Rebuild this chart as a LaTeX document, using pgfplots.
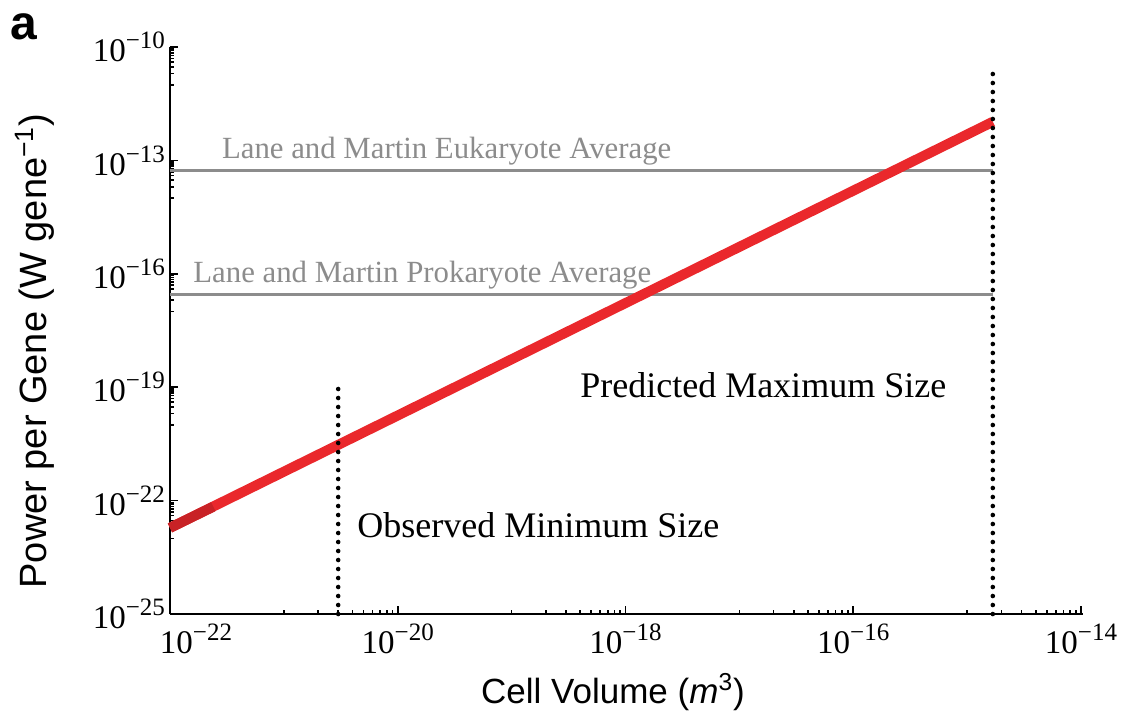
\documentclass[border=0pt]{standalone}
\usepackage{fontspec}
\setmainfont{Liberation Serif}
\setsansfont{Liberation Sans}
\usepackage{pgfplots}
\pgfplotsset{compat=1.18}
\definecolor{redline}{RGB}{234,40,44}
\definecolor{darkred}{RGB}{200,34,38}
\definecolor{refgray}{RGB}{140,140,140}
\newcommand{\tl}[1]{10\raisebox{6.5pt}{\fontsize{12.5}{13}\selectfont −#1}}
\begin{document}
\begin{tikzpicture}[x=1pt,y=1pt]
\useasboundingbox (0,0) rectangle (563.5,362);
\begin{axis}[
  at={(85pt,55pt)}, anchor=south west,
  scale only axis, width=456.5pt, height=283.5pt,
  xmode=log, ymode=log,
  xmin=1e-22, xmax=1.04e-14, ymin=1e-25, ymax=1e-10,
  axis x line*=bottom, axis y line*=left,
  axis line style={-, line width=1pt},
  xtick={1e-22,1e-20,1e-18,1e-16,1e-14},
  xticklabels={\makebox[0pt][l]{\hspace{-5pt}\tl{22}},\tl{20},\tl{18},\tl{16},\tl{14}},
  minor xtick={1e-21,2e-21,3e-21,4e-21,5e-21,6e-21,7e-21,8e-21,9e-21,
               1e-19,2e-19,3e-19,4e-19,5e-19,6e-19,7e-19,8e-19,9e-19,
               1e-17,2e-17,3e-17,4e-17,5e-17,6e-17,7e-17,8e-17,9e-17,
               1e-15,2e-15,3e-15,4e-15,5e-15,6e-15,7e-15,8e-15,9e-15},
  ytick={1e-25,1e-22,1e-19,1e-16,1e-13,1e-10},
  yticklabels={\tl{25},\tl{22},\tl{19},\tl{16},\tl{13},\tl{10}},
  minor ytick={1e-11,2e-11,3e-11,4e-11,5e-11,6e-11,7e-11,8e-11,9e-11,
               1e-14,2e-14,3e-14,4e-14,5e-14,6e-14,7e-14,8e-14,9e-14,
               1e-17,2e-17,3e-17,4e-17,5e-17,6e-17,7e-17,8e-17,9e-17,
               1e-20,2e-20,3e-20,4e-20,5e-20,6e-20,7e-20,8e-20,9e-20,
               1e-23,2e-23,3e-23,4e-23,5e-23,6e-23,7e-23,8e-23,9e-23},
  tick align=inside,
  major tick length=4pt, minor tick length=2.2pt,
  every tick/.style={black, line width=0.8pt},
  ticklabel style={font=\fontsize{16.5}{18}\selectfont},
  xticklabel style={yshift=-1.5pt},
  yticklabel style={xshift=1pt},
  clip=false,
]
% reference averages
\addplot[refgray, line width=1.5pt] coordinates {(1e-22,5.57e-14) (1.68e-15,5.57e-14)};
\addplot[refgray, line width=1.5pt] coordinates {(1e-22,2.92e-17) (1.68e-15,2.92e-17)};
% power per gene
\addplot[redline, line width=5pt] coordinates {(1e-22,1.9e-23) (1.68e-15,1.05e-12)};
\addplot[darkred, line width=5pt] coordinates {(1e-22,1.9e-23) (2.4e-22,6.9e-23)};
% size limits
\addplot[black, line width=2.3pt, line cap=round, dash pattern=on 0pt off 4.5pt] coordinates {(3e-21,1e-25) (3e-21,1.15e-19)};
\addplot[black, line width=2.3pt, line cap=round, dash pattern=on 0pt off 4.5pt] coordinates {(1.68e-15,1e-25) (1.68e-15,3.3e-11)};
% annotations
\node[anchor=base west, inner sep=0, text=refgray, font=\fontsize{15.4}{18}\selectfont] at (rel axis cs:0.0566,0.804) {Lane and Martin Eukaryote Average};
\node[anchor=base west, inner sep=0, text=refgray, font=\fontsize{15.4}{18}\selectfont] at (rel axis cs:0.0252,0.5855) {Lane and Martin Prokaryote Average};
\node[anchor=base west, inner sep=0, font=\fontsize{18}{21}\selectfont] at (rel axis cs:0.449,0.3827) {Predicted Maximum Size};
\node[anchor=base west, inner sep=0, font=\fontsize{18}{21}\selectfont] at (rel axis cs:0.2048,0.1358) {Observed Minimum Size};
\end{axis}
\node[rotate=90, inner sep=0, font=\sffamily\fontsize{19}{22}\selectfont] at (17.5,186.5) {Power per Gene (W gene\textsuperscript{−1})};
\node[inner sep=0, font=\sffamily\fontsize{17.5}{20}\selectfont] at (306.5,16) {Cell Volume (\textit{m}\textsuperscript{3})};
\node[anchor=base west, inner sep=0, font=\sffamily\bfseries\fontsize{24}{26}\selectfont] at (5,342) {a};
\end{tikzpicture}
\end{document}
